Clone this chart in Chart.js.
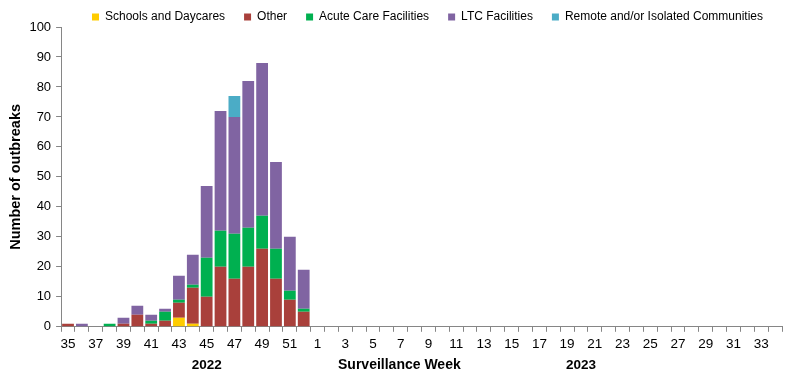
<!DOCTYPE html>
<html>
<head>
<meta charset="utf-8">
<script src="https://cdn.jsdelivr.net/npm/chart.js@4/dist/chart.umd.min.js"></script>
<style>
html,body{margin:0;padding:0;background:#fff;}
#wrap{width:794px;height:378px;position:relative;}
</style>
</head>
<body>
<div id="wrap"><canvas id="c" width="794" height="378"></canvas></div>
<script>
const weeks = ['35','36','37','38','39','40','41','42','43','44','45','46','47','48','49','50','51','52',
  '1','2','3','4','5','6','7','8','9','10','11','12','13','14','15','16','17','18','19','20','21','22','23','24','25','26','27','28','29','30','31','32','33','34'];
const pad2023 = new Array(34).fill(0);
const schools = [0,0,0,0,0,0,0,0,3,1,0,0,0,0,0,0,0,0].concat(pad2023);
const other   = [1,0,0,0,1,4,1,2,5,12,10,20,16,20,26,16,9,5].concat(pad2023);
const acute   = [0,0,0,1,0,0,1,3,1,1,13,12,15,13,11,10,3,1].concat(pad2023);
const ltc     = [0,1,0,0,2,3,2,1,8,10,24,40,39,49,51,29,18,13].concat(pad2023);
const remote  = [0,0,0,0,0,0,0,0,0,0,0,0,7,0,0,0,0,0].concat(pad2023);
const axisTitle = 'Surveillance Week';

const FONT = "'Liberation Sans', Arial, sans-serif";
const AX = '#868686';

const legendTrim = {
  id:'legendTrim',
  beforeLayout(chart){
    const lg = chart.legend;
    if (lg && !lg._trimmed){
      const orig = lg.fit;
      lg.fit = function(){ orig.call(this); this.height -= 6; };
      lg._trimmed = true;
    }
  }
};

const bottomText = {
  id:'bottomText',
  afterDraw(chart){
    const ctx = chart.ctx, xs = chart.scales.x;
    ctx.save();
    ctx.fillStyle = '#000';
    ctx.textAlign = 'center';
    ctx.textBaseline = 'middle';
    const y = xs.bottom + 9;
    ctx.font = "bold 13.5px " + FONT;
    ctx.fillText('2022', xs.getPixelForValue(weeks.indexOf('45')), y);
    ctx.fillText('2023', xs.getPixelForValue(weeks.lastIndexOf('20')), y);
    ctx.font = "bold 14px " + FONT;
    const a = xs.getPixelForValue(23), b = xs.getPixelForValue(24);
    ctx.fillText(axisTitle, a + (b-a)*0.9, y);
    ctx.restore();
  }
};

new Chart(document.getElementById('c'), {
  type:'bar',
  data:{
    labels:weeks,
    datasets:[
      {label:'Schools and Daycares', data:schools, backgroundColor:'#FFCC00'},
      {label:'Other', data:other, backgroundColor:'#A9403B'},
      {label:'Acute Care Facilities', data:acute, backgroundColor:'#00B050'},
      {label:'LTC Facilities', data:ltc, backgroundColor:'#8064A2'},
      {label:'Remote and/or Isolated Communities', data:remote, backgroundColor:'#4BACC6'}
    ]
  },
  options:{
    responsive:false,
    animation:false,
    devicePixelRatio:1,
    layout:{padding:{left:7,right:12,top:-8,bottom:22}},
    datasets:{bar:{barPercentage:0.85, categoryPercentage:1.0, borderWidth:0}},
    plugins:{
      legend:{
        position:'top',
        align:'end',
        labels:{boxWidth:7, boxHeight:7, padding:19, color:'#000', font:{family:FONT, size:12}}
      },
      tooltip:{enabled:false}
    },
    scales:{
      x:{
        stacked:true,
        grid:{offset:true, drawOnChartArea:false, drawTicks:true, tickLength:5, color:AX},
        border:{color:AX, width:1},
        ticks:{autoSkip:false, maxRotation:0, minRotation:0, padding:4, color:'#000', font:{family:FONT, size:13.5},
          callback:function(v,i){ return i%2===0 ? weeks[i] : ''; }}
      },
      y:{
        stacked:true,
        min:0, max:100,
        grid:{drawOnChartArea:false, drawTicks:true, tickLength:5, color:AX},
        border:{color:AX, width:1},
        ticks:{stepSize:10, padding:5, color:'#000', font:{family:FONT, size:13}},
        title:{display:true, text:'Number of outbreaks', color:'#000', font:{family:FONT, size:14.5, weight:'bold'}, padding:{top:0,bottom:0}}
      }
    }
  },
  plugins:[legendTrim, bottomText]
});
</script>
</body>
</html>
